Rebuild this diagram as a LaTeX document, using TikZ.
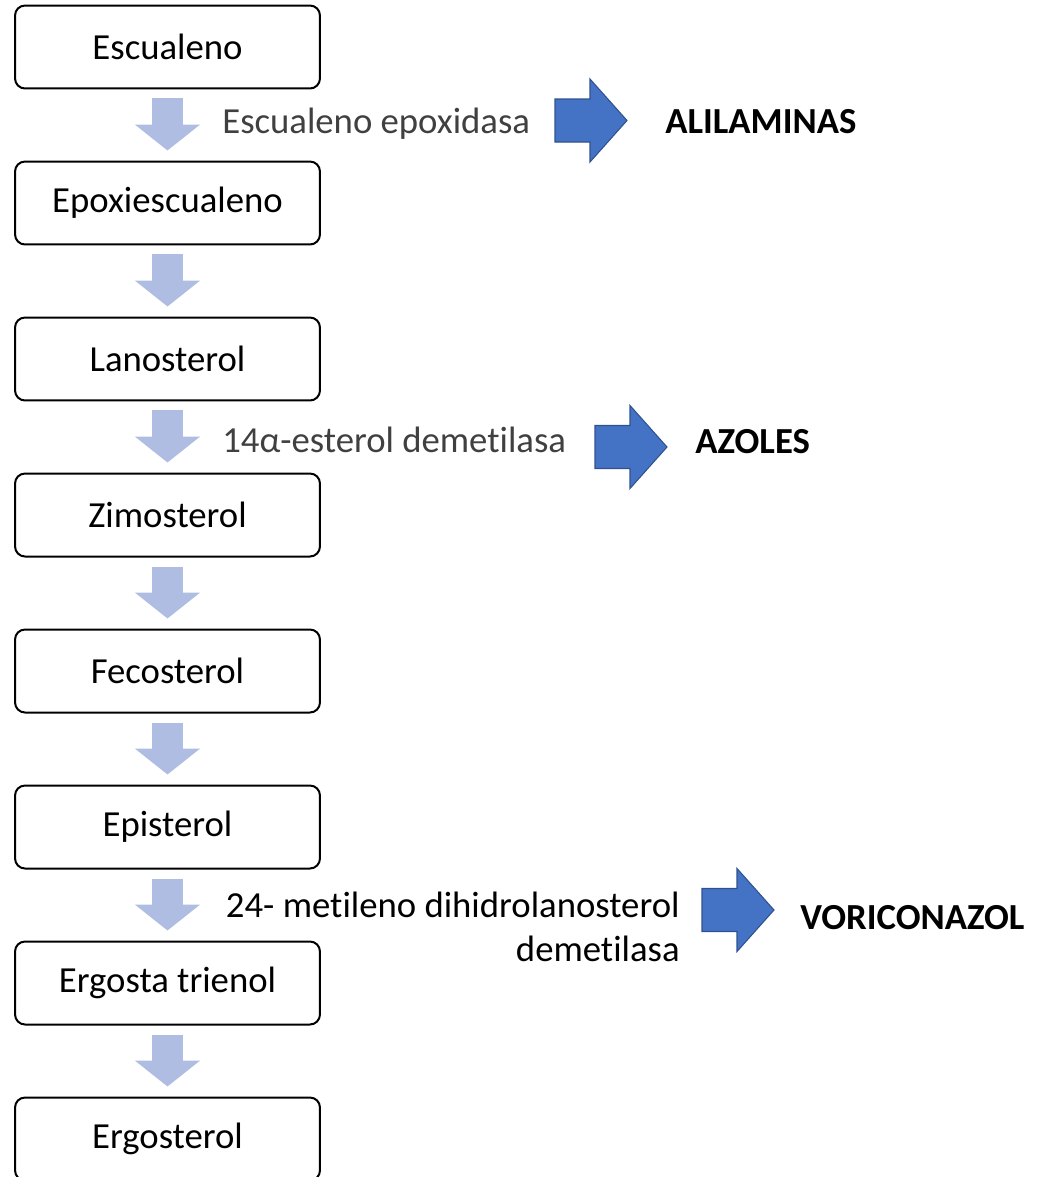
\documentclass[tikz,border=0pt]{standalone}
\usepackage{fontspec}
\setmainfont[Ligatures={NoCommon,NoRare}]{Carlito}
\usetikzlibrary{calc,arrows.meta}
\definecolor{paso}{RGB}{176,189,226}
\definecolor{bloque}{RGB}{68,114,196}
\definecolor{bloqueborde}{RGB}{47,82,143}
\definecolor{enzima}{RGB}{64,64,64}
\tikzset{
	caja/.style={draw=black, line width=0.04cm, rounded corners=0.2cm, minimum width=6.1cm, minimum height=1.66cm, inner sep=0pt},
	paso/.style={draw=paso, line width=0.62cm, -{Triangle[width=1.28cm,length=0.52cm]}},
	enzima/.style={text=enzima, inner sep=0pt},
	farmaco/.style={font=\fontsize{20.9}{25}\selectfont\bfseries, inner sep=0pt},
	pics/bloque/.style={code={
		\draw[fill=bloque, draw=bloqueborde, line width=0.6pt] (0,-21.5) -- (35,-21.5) -- (35,-41.5) -- (72,0) -- (35,41.5) -- (35,21.5) -- (0,21.5) -- cycle;
	}}
}

\begin{document}
\begin{tikzpicture}[x=0.02cm, y=-0.02cm, font=\fontsize{20.9}{25}\selectfont]
			%%%%% START %%%%%
			
			\clip (0, 0) rectangle (1046, 1177);
			
			\node[caja] (escualeno) at (167.5, 47) {Escualeno};
			\node[caja] (epoxi) at (167.5, 203) {Epoxiescualeno};
			\node[caja] (lanosterol) at (167.5, 359) {Lanosterol};
			\node[caja] (zimosterol) at (167.5, 515) {Zimosterol};
			\node[caja] (fecosterol) at (167.5, 671) {Fecosterol};
			\node[caja] (episterol) at (167.5, 827) {Episterol};
			\node[caja] (trienol) at (167.5, 983) {Ergosta trienol};
			\node[caja] (ergosterol) at (167.5, 1139) {Ergosterol};
			
			\draw[paso] ($(escualeno.south)+(0,9)$) -- ($(epoxi.north)+(0,-10)$);
			\draw[paso] ($(epoxi.south)+(0,9)$) -- ($(lanosterol.north)+(0,-10)$);
			\draw[paso] ($(lanosterol.south)+(0,9)$) -- ($(zimosterol.north)+(0,-10)$);
			\draw[paso] ($(zimosterol.south)+(0,9)$) -- ($(fecosterol.north)+(0,-10)$);
			\draw[paso] ($(fecosterol.south)+(0,9)$) -- ($(episterol.north)+(0,-10)$);
			\draw[paso] ($(episterol.south)+(0,9)$) -- ($(trienol.north)+(0,-10)$);
			\draw[paso] ($(trienol.south)+(0,9)$) -- ($(ergosterol.north)+(0,-10)$);
			
			\node[enzima, anchor=west] (epoxidasa) at (222, 124) {Escualeno epoxidasa};
			\node[enzima, anchor=west] (demetilasa) at (222, 440) {14α-esterol demetilasa};
			\node[inner sep=0pt, anchor=east, align=right] (dihidro) at (680, 927) {24- metileno dihidrolanosterol\\demetilasa};
			
			\pic at (555, 120.5) {bloque};
			\pic at (595, 447) {bloque};
			\pic at (702, 910) {bloque};
			
			\node[farmaco, anchor=west] (alilaminas) at (665, 122) {ALILAMINAS};
			\node[farmaco, anchor=west] (azoles) at (695, 442) {AZOLES};
			\node[farmaco, anchor=west] (voriconazol) at (800, 918) {VORICONAZOL};
			
			%%%%% END %%%%%
\end{tikzpicture}
\end{document}
